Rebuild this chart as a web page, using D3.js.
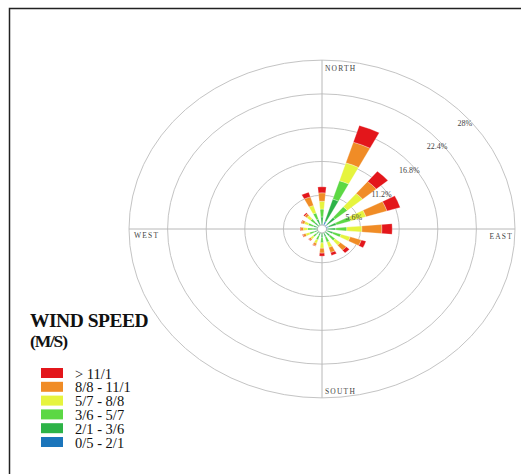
<!DOCTYPE html>
<html>
<head>
<meta charset="utf-8">
<script src="https://cdn.jsdelivr.net/npm/d3@7"></script>
<style>
  html, body { margin: 0; padding: 0; background: #fff; }
  svg { display: block; }
</style>
</head>
<body>
<svg id="chart" width="528" height="474"></svg>
<script>
const directions = ["N", "NNE", "NE", "ENE", "E", "ESE", "SE", "SSE", "S", "SSW", "SW", "WSW", "W", "WNW", "NW", "NNW"];
const speedBins = ["0/5 - 2/1", "2/1 - 3/6", "3/6 - 5/7", "5/7 - 8/8", "8/8 - 11/1", "> 11/1"];
const binColors = ["#1b75bb", "#2db347", "#5cd844", "#e6f43e", "#f08c26", "#e3161b"];

// frequency (%) per direction, one array per speed bin
const bin05to21 = [0.8, 1.3, 1.0, 1.0, 0.8, 0.7, 0.6, 0.6, 0.6, 0.5, 0.5, 0.5, 0.5, 0.5, 0.6, 0.7];
const bin21to36 = [1.2, 3.9, 1.5, 1.2, 1.2, 1.0, 0.9, 0.8, 0.8, 0.7, 0.6, 0.7, 0.8, 0.8, 0.8, 1.0];
const bin36to57 = [1.3, 3.2, 2.3, 2.2, 1.6, 1.2, 1.0, 0.9, 0.9, 0.7, 0.6, 0.7, 0.8, 0.8, 0.8, 1.1];
const bin57to88 = [1.3, 3.1, 2.9, 2.3, 2.2, 1.4, 1.0, 0.9, 0.9, 0.6, 0.5, 0.6, 0.6, 0.6, 0.7, 1.3];
const bin88to111 = [1.4, 3.6, 2.6, 3.2, 2.9, 1.7, 1.1, 0.9, 0.8, 0.4, 0.3, 0.4, 0.4, 0.4, 0.4, 1.5];
const binOver111 = [1.0, 2.9, 2.2, 2.0, 1.5, 0.7, 0.6, 0.5, 0.5, 0.1, 0.1, 0.1, 0.1, 0.1, 0.2, 0.8];

const ringTicks = [5.6, 11.2, 16.8, 22.4, 28];
const ringLabels = ["5.6%", "11.2%", "16.8%", "22.4%", "28%"];
const compassLabels = ["NORTH", "EAST", "SOUTH", "WEST"];

const bins = [bin05to21, bin21to36, bin36to57, bin57to88, bin88to111, binOver111];

const svg = d3.select("#chart");
const cx = 322, cy = 229, squash = 0.875;
const rScale = d3.scaleLinear().domain([0, 28]).range([0, 193]);
const angleScale = d3.scaleLinear().domain([0, directions.length]).range([0, 2 * Math.PI]);
const halfWedge = (5 * Math.PI) / 180;

// frame
svg.append("path")
  .attr("d", "M9.5,474 V8.5 H521")
  .attr("fill", "none")
  .attr("stroke", "#222")
  .attr("stroke-width", 1.5);

const polar = svg.append("g")
  .attr("transform", `translate(${cx},${cy}) scale(1,${squash})`);

polar.selectAll("circle.ring")
  .data(ringTicks)
  .join("circle")
  .attr("class", "ring")
  .attr("r", (d) => rScale(d))
  .attr("fill", "none")
  .attr("stroke", "#c4c4c4")
  .attr("stroke-width", 1)
  .attr("vector-effect", "non-scaling-stroke");

const outer = rScale(28);
polar.append("line")
  .attr("x1", 0).attr("x2", 0).attr("y1", -outer).attr("y2", outer)
  .attr("stroke", "#b8b8b8").attr("vector-effect", "non-scaling-stroke");
polar.append("line")
  .attr("x1", -outer).attr("x2", outer).attr("y1", 0).attr("y2", 0)
  .attr("stroke", "#b8b8b8").attr("vector-effect", "non-scaling-stroke");

// stacked wedges
const segments = [];
directions.forEach((dir, i) => {
  let base = 0;
  bins.forEach((values, b) => {
    segments.push({ dir, i, b, inner: base, outer: base + values[i] });
    base += values[i];
  });
});

const arc = d3.arc()
  .innerRadius((d) => rScale(d.inner))
  .outerRadius((d) => rScale(d.outer))
  .startAngle((d) => angleScale(d.i) - halfWedge)
  .endAngle((d) => angleScale(d.i) + halfWedge);

polar.selectAll("path.wedge")
  .data(segments)
  .join("path")
  .attr("class", "wedge")
  .attr("d", arc)
  .attr("fill", (d) => binColors[d.b])
  .attr("stroke", "#fff")
  .attr("stroke-width", 0.3)
  .attr("vector-effect", "non-scaling-stroke");

polar.append("circle")
  .attr("r", 4.5)
  .attr("fill", "#fff")
  .attr("stroke", "#999")
  .attr("stroke-width", 0.6)
  .attr("vector-effect", "non-scaling-stroke");

// ring labels
svg.selectAll("text.ring-label")
  .data(ringTicks)
  .join("text")
  .attr("class", "ring-label")
  .attr("x", (d) => cx + rScale(d) * 0.72 + 4)
  .attr("y", (d) => cy - (rScale(d) * squash * 0.7 - 15))
  .attr("text-anchor", "middle")
  .attr("font-family", "'Liberation Serif', serif")
  .attr("font-size", 8)
  .attr("fill", "#444")
  .text((d, i) => ringLabels[i]);

// compass labels
const compassPos = [
  { x: cx + 3, y: cy - outer * squash + 11, anchor: "start" },
  { x: cx + outer - 2, y: cy + 10, anchor: "end" },
  { x: cx + 3, y: cy + outer * squash - 4, anchor: "start" },
  { x: cx - outer + 5, y: cy + 9, anchor: "start" }
];
svg.selectAll("text.compass")
  .data(compassLabels)
  .join("text")
  .attr("class", "compass")
  .attr("x", (d, i) => compassPos[i].x)
  .attr("y", (d, i) => compassPos[i].y)
  .attr("text-anchor", (d, i) => compassPos[i].anchor)
  .attr("font-family", "'Liberation Serif', serif")
  .attr("font-size", 7.5)
  .attr("letter-spacing", 1.2)
  .attr("fill", "#444")
  .text((d) => d);

// legend
const legend = svg.append("g").attr("transform", "translate(30,0)");
legend.append("text")
  .attr("x", 0).attr("y", 327)
  .attr("font-family", "'Liberation Serif', serif")
  .attr("font-weight", "bold")
  .attr("font-size", 19.5)
  .attr("letter-spacing", -0.5)
  .attr("fill", "#111")
  .text("WIND SPEED");
legend.append("text")
  .attr("x", 0).attr("y", 347)
  .attr("font-family", "'Liberation Serif', serif")
  .attr("font-weight", "bold")
  .attr("font-size", 17.5)
  .attr("letter-spacing", -1.2)
  .attr("fill", "#111")
  .text("(M/S)");

const legendRows = speedBins.map((label, b) => ({ label, color: binColors[b] })).reverse();
const rowY = d3.scaleLinear().domain([0, 1]).range([368, 381.8]);
const rows = legend.selectAll("g.row")
  .data(legendRows)
  .join("g")
  .attr("class", "row")
  .attr("transform", (d, i) => `translate(0,${rowY(i)})`);
rows.append("rect")
  .attr("x", 11).attr("y", 0)
  .attr("width", 22).attr("height", 10)
  .attr("fill", (d) => d.color);
rows.append("text")
  .attr("x", 45).attr("y", 10.5)
  .attr("font-family", "'Liberation Serif', serif")
  .attr("font-size", 14.5)
  .attr("fill", "#111")
  .text((d) => d.label);
</script>
</body>
</html>
